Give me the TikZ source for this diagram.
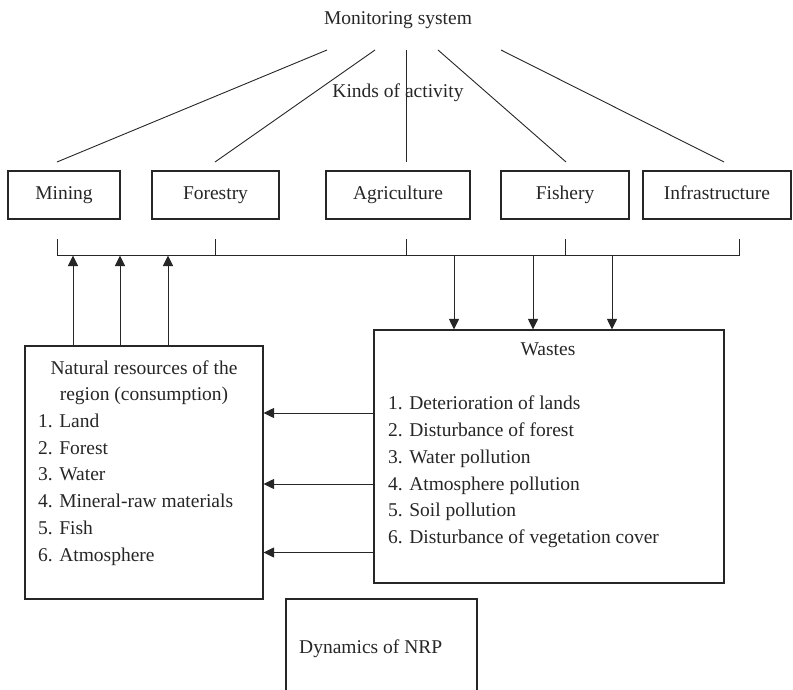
\documentclass[tikz,border=0pt]{standalone}
\usepackage{fontspec}
\setmainfont{Liberation Serif}
\usetikzlibrary{arrows.meta}

\begin{document}
\begin{tikzpicture}
[every node/.style={inner sep=0pt, font=\fontsize{19.5pt}{27pt}\selectfont, text=black!85},
 actbox/.style={draw=black!85, line width=1.1pt, minimum height=48pt, text height=13.3pt, text depth=4.2pt},
 bigbox/.style={draw=black!85, line width=1.1pt},
 listline/.style={anchor=base west},
 headline/.style={anchor=base},
 conn/.style={line width=0.9pt, color=black!85},
 flow/.style={line width=1pt, color=black!85, -{Triangle[length=10.5pt,width=10pt]}}]
\path [use as bounding box] (0pt,0pt) rectangle (793pt,-690pt);
\clip (0pt,0pt) rectangle (793pt,-690pt);
% top titles
\node (monitor) [headline] at (398pt, -25pt) {Monitoring system};
\node (kinds) [headline] at (398pt, -98pt) {Kinds of activity};
% kinds of activity
\node (mining) [actbox, minimum width=112pt] at (64pt, -195pt) {Mining};
\node (forestry) [actbox, minimum width=127pt] at (215.5pt, -195pt) {Forestry};
\node (agri) [actbox, minimum width=144pt] at (398pt, -195pt) {Agriculture};
\node (fishery) [actbox, minimum width=128pt] at (565pt, -195pt) {Fishery};
\node (infra) [actbox, minimum width=148pt] at (717pt, -195pt) {Infrastructure};
% fan of lines from the monitoring system
\coordinate (mt1) at (327pt, -50pt);
\coordinate (mt2) at (375pt, -50pt);
\coordinate (mt3) at (406pt, -50pt);
\coordinate (mt4) at (438pt, -50pt);
\coordinate (mt5) at (501pt, -50pt);
\coordinate (mb1) at (57pt, -162pt);
\coordinate (mb2) at (215pt, -162pt);
\coordinate (mb3) at (406pt, -162pt);
\coordinate (mb4) at (566pt, -162pt);
\coordinate (mb5) at (724pt, -162pt);
\draw [conn] (mt1) -- (mb1);
\draw [conn] (mt2) -- (mb2);
\draw [conn] (mt3) -- (mb3);
\draw [conn] (mt4) -- (mb4);
\draw [conn] (mt5) -- (mb5);
% collecting bus
\coordinate (busw) at (57pt, -255pt);
\coordinate (buse) at (739pt, -255pt);
\coordinate (tk1) at (57pt, -239pt);
\coordinate (tk2) at (215pt, -239pt);
\coordinate (tk3) at (406pt, -239pt);
\coordinate (tk4) at (565pt, -239pt);
\coordinate (tk5) at (739pt, -239pt);
\draw [conn] (tk1) -- (busw) -- (buse) -- (tk5);
\draw [conn] (tk2) -- (tk2 |- busw);
\draw [conn] (tk3) -- (tk3 |- busw);
\draw [conn] (tk4) -- (tk4 |- busw);
% natural resources
\node (natres) [bigbox, minimum width=238pt, minimum height=253pt] at (144pt, -472.5pt) {};
\node (nt1) [headline] at (144pt, -374pt) {Natural resources of the};
\node (nt2) [headline] at (144pt, -400.7pt) {region (consumption)};
\node (nr1) [listline] at (38pt, -427.4pt) {1. Land};
\node (nr2) [listline] at (38pt, -454pt) {2. Forest};
\node (nr3) [listline] at (38pt, -480.8pt) {3. Water};
\node (nr4) [listline] at (38pt, -507.5pt) {4. Mineral-raw materials};
\node (nr5) [listline] at (38pt, -534pt) {5. Fish};
\node (nr6) [listline] at (38pt, -561pt) {6. Atmosphere};
% wastes
\node (wastes) [bigbox, minimum width=350pt, minimum height=253pt] at (549pt, -456.5pt) {};
\node (wt) [headline] at (548pt, -355pt) {Wastes};
\node (w1) [listline] at (388pt, -409.3pt) {1. Deterioration of lands};
\node (w2) [listline] at (388pt, -436.2pt) {2. Disturbance of forest};
\node (w3) [listline] at (388pt, -463.1pt) {3. Water pollution};
\node (w4) [listline] at (388pt, -490pt) {4. Atmosphere pollution};
\node (w5) [listline] at (388pt, -516.9pt) {5. Soil pollution};
\node (w6) [listline] at (388pt, -543.8pt) {6. Disturbance of vegetation cover};
% dynamics
\node (dyn) [bigbox, minimum width=191pt, minimum height=150pt] at (381.5pt, -674pt) {};
\node (dt) [listline] at (299pt, -653pt) {Dynamics of NRP};
% consumption arrows up to the bus
\coordinate (up1) at (73pt, -255.5pt);
\coordinate (up2) at (120pt, -255.5pt);
\coordinate (up3) at (168pt, -255.5pt);
\draw [flow] (natres.north -| up1) -- (up1);
\draw [flow] (natres.north -| up2) -- (up2);
\draw [flow] (natres.north -| up3) -- (up3);
% waste arrows down from the bus
\coordinate (dn1) at (454pt, -255pt);
\coordinate (dn2) at (533pt, -255pt);
\coordinate (dn3) at (612pt, -255pt);
\draw [flow] (dn1) -- (wastes.north -| dn1);
\draw [flow] (dn2) -- (wastes.north -| dn2);
\draw [flow] (dn3) -- (wastes.north -| dn3);
% wastes back to resources
\coordinate (h1) at (0pt, -413pt);
\coordinate (h2) at (0pt, -484pt);
\coordinate (h3) at (0pt, -552.5pt);
\draw [flow] (wastes.west |- h1) -- (natres.east |- h1);
\draw [flow] (wastes.west |- h2) -- (natres.east |- h2);
\draw [flow] (wastes.west |- h3) -- (natres.east |- h3);
\end{tikzpicture}
\end{document}
